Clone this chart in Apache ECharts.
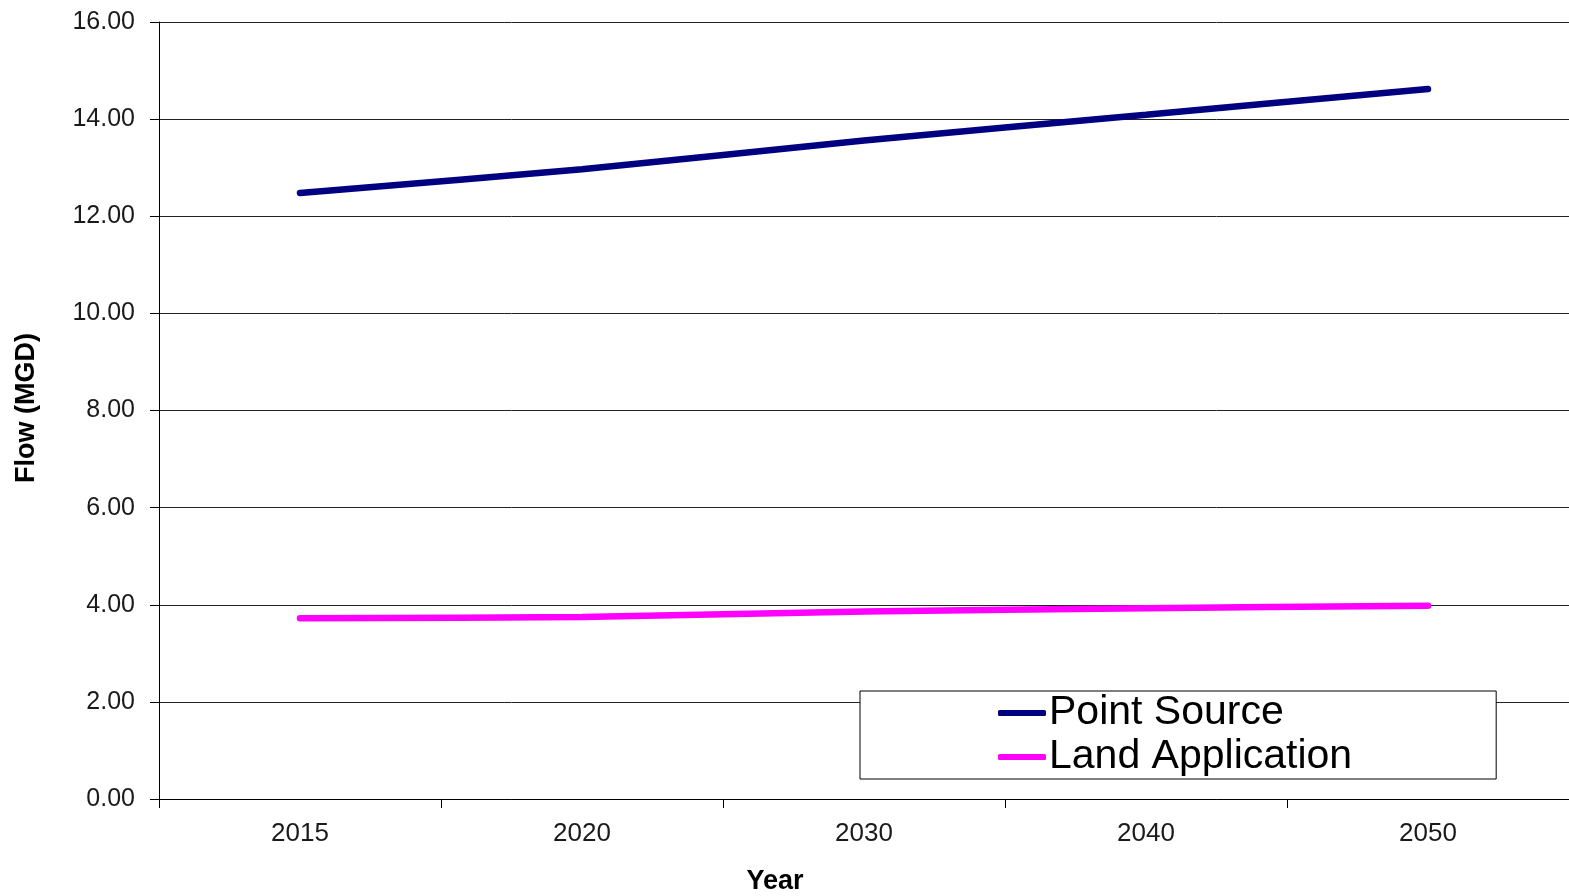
<!DOCTYPE html>
<html>
<head>
<meta charset="utf-8">
<script src="https://cdn.jsdelivr.net/npm/echarts@6/dist/echarts.min.js"></script>
<style>
  html, body { margin: 0; padding: 0; background: #fff; }
  #chart { width: 1569px; height: 896px; }
</style>
</head>
<body>
<div id="chart"></div>
<script>
// Projected flows by year (MGD)
const years = ['2015', '2020', '2030', '2040', '2050'];
const pointSource = [12.48, 12.97, 13.56, 14.09, 14.62];
const landApplication = [3.72, 3.75, 3.86, 3.93, 3.98];
const seriesNames = ['Point Source', 'Land Application'];

const FONT = '"Liberation Sans", Arial, sans-serif';
const chart = echarts.init(document.getElementById('chart'), null, { renderer: 'canvas' });

chart.setOption({
  animation: false,
  backgroundColor: '#ffffff',
  grid: { left: 159, top: 22, right: 0, bottom: 97, containLabel: false },
  legend: {
    orient: 'vertical',
    left: 860,
    top: 691,
    padding: [0, 144, 0, 138],
    itemGap: 0,
    itemWidth: 48,
    itemHeight: 6,
    icon: 'roundRect',
    borderColor: '#000',
    borderWidth: 1,
    backgroundColor: '#fff',
    textStyle: { fontFamily: FONT, fontSize: 41, lineHeight: 41, color: '#000', padding: [3, 0, 0, -2] },
    data: seriesNames
  },
  xAxis: {
    type: 'category',
    data: years,
    boundaryGap: true,
    axisLine: { show: true, lineStyle: { color: '#000', width: 1 } },
    axisTick: { show: true, length: 9, lineStyle: { color: '#000' } },
    axisLabel: { fontFamily: FONT, fontSize: 26, color: '#1a1a1a', margin: 22 },
    splitLine: { show: false }
  },
  yAxis: {
    type: 'value',
    min: 0,
    max: 16,
    interval: 2,
    axisLine: { show: true, lineStyle: { color: '#000', width: 1 } },
    axisTick: { show: true, length: 9, lineStyle: { color: '#000' } },
    axisLabel: {
      fontFamily: FONT, fontSize: 25, color: '#1a1a1a', margin: 24,
      formatter: v => v.toFixed(2)
    },
    splitLine: { show: true, lineStyle: { color: '#222', width: 1 } }
  },
  graphic: [
    {
      type: 'text',
      x: 775, y: 882,
      style: {
        text: 'Year', fontFamily: FONT, fontSize: 27, fontWeight: 'bold', fill: '#000',
        align: 'center', verticalAlign: 'middle'
      }
    },
    {
      type: 'text',
      x: 27, y: 408,
      rotation: Math.PI / 2,
      style: {
        text: 'Flow (MGD)', fontFamily: FONT, fontSize: 27, fontWeight: 'bold', fill: '#000',
        align: 'center', verticalAlign: 'middle'
      }
    }
  ],
  series: [
    {
      name: seriesNames[0],
      type: 'line',
      data: pointSource,
      smooth: 0.3,
      showSymbol: false,
      symbol: 'none',
      color: '#000080',
      lineStyle: { color: '#000080', width: 6.5, cap: 'round' }
    },
    {
      name: seriesNames[1],
      type: 'line',
      data: landApplication,
      smooth: 0.3,
      showSymbol: false,
      symbol: 'none',
      color: '#FF00FF',
      lineStyle: { color: '#FF00FF', width: 6.5, cap: 'round' }
    }
  ]
});
</script>
</body>
</html>
